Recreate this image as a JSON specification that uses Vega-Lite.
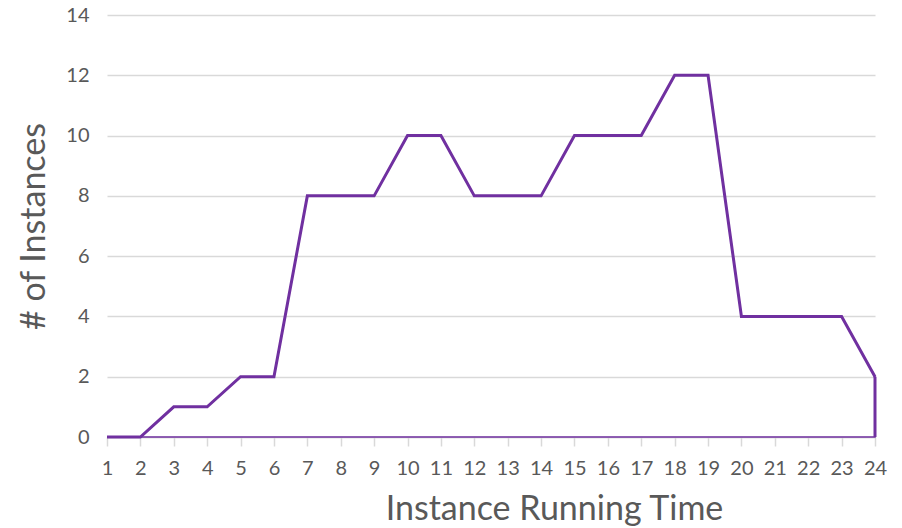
{
  "$schema": "https://vega.github.io/schema/vega-lite/v6.json",
  "autosize": "none",
  "width": 768,
  "height": 422,
  "padding": {"left": 107, "top": 15, "right": 27, "bottom": 91},
  "background": "white",
  "config": {"view": {"stroke": null}, "font": "Lato"},
  "data": {"values": [
    {"t": 1, "n": 0}, {"t": 2, "n": 0}, {"t": 3, "n": 1}, {"t": 4, "n": 1},
    {"t": 5, "n": 2}, {"t": 6, "n": 2}, {"t": 7, "n": 8}, {"t": 8, "n": 8},
    {"t": 9, "n": 8}, {"t": 10, "n": 10}, {"t": 11, "n": 10}, {"t": 12, "n": 8},
    {"t": 13, "n": 8}, {"t": 14, "n": 8}, {"t": 15, "n": 10}, {"t": 16, "n": 10},
    {"t": 17, "n": 10}, {"t": 18, "n": 12}, {"t": 19, "n": 12}, {"t": 20, "n": 4},
    {"t": 21, "n": 4}, {"t": 22, "n": 4}, {"t": 23, "n": 4}, {"t": 24, "n": 2}
  ]},
  "encoding": {
    "x": {
      "field": "t", "type": "ordinal", "sort": "ascending",
      "scale": {"type": "point", "padding": 0},
      "axis": {
        "title": "Instance Running Time", "labelAngle": 0,
        "labelFontSize": 20, "labelColor": "#595959", "labelPadding": 12,
        "tickColor": "#d9d9d9", "tickSize": 9, "tickWidth": 1.5,
        "domainColor": "#d9d9d9", "domainWidth": 1.5,
        "titleFontSize": 34, "titleFontWeight": "normal", "titleColor": "#595959", "titlePadding": 14,
        "titleX": 447, "titleAlign": "center"
      }
    },
    "y": {
      "field": "n", "type": "quantitative",
      "scale": {"domain": [0, 14]},
      "axis": {
        "title": "# of Instances", "values": [0, 2, 4, 6, 8, 10, 12, 14],
        "labelFontSize": 20, "labelColor": "#595959", "labelPadding": 18,
        "ticks": false, "domain": false,
        "gridColor": "#d9d9d9", "gridWidth": 1.5,
        "titleFontSize": 34, "titleFontWeight": "normal", "titleColor": "#595959", "titlePadding": 14
      }
    }
  },
  "layer": [
    {"mark": {"type": "area", "fillOpacity": 0, "stroke": "#7030a0", "strokeWidth": 1.5}},
    {"mark": {"type": "line", "color": "#7030a0", "strokeWidth": 3}},
    {
      "transform": [{"filter": "datum.t == 24"}],
      "mark": {"type": "rule", "color": "#7030a0", "strokeWidth": 3},
      "encoding": {"y2": {"datum": 0}}
    }
  ]
}
